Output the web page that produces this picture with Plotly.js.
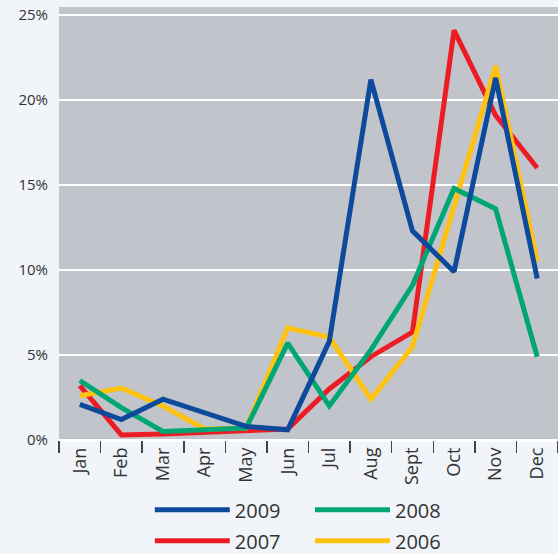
<!DOCTYPE html>
<html>
<head>
<meta charset="utf-8">
<script src="https://cdn.plot.ly/plotly-3.0.1.min.js"></script>
<style>
  html, body { margin: 0; padding: 0; background: #f1f4f8; }
  #chart { width: 558px; height: 554px; }
</style>
</head>
<body>
<div id="chart"></div>
<script>
// monthly share, %
const months = ['Jan', 'Feb', 'Mar', 'Apr', 'May', 'Jun', 'Jul', 'Aug', 'Sept', 'Oct', 'Nov', 'Dec'];
const y2009 = [2.1, 1.2, 2.4, 1.6, 0.8, 0.6, 5.8, 21.2, 12.3, 9.9, 21.3, 9.5];
const y2008 = [3.5, 1.9, 0.5, 0.6, 0.7, 5.7, 2.0, 5.3, 9.1, 14.8, 13.6, 4.9];
const y2007 = [3.2, 0.3, 0.35, 0.45, 0.5, 0.65, 3.0, 4.9, 6.35, 24.1, 19.1, 16.0];
const y2006 = [2.6, 3.05, 2.0, 0.65, 0.7, 6.6, 6.05, 2.4, 5.5, 13.7, 22.0, 10.5];

function line(name, data, color, legend, rank) {
    return {
        x: months,
        y: data,
        name: name,
        type: 'scatter',
        mode: 'lines',
        line: { color: color, width: 5 },
        legend: legend,
        legendgroup: name,
        legendrank: rank,
        hoverinfo: 'skip'
    };
}

// draw order: red, yellow, green, blue on top
const traces = [
    line('2007', y2007, '#ed1c24', 'legend', 2),
    line('2006', y2006, '#ffc20e', 'legend2', 2),
    line('2008', y2008, '#00a774', 'legend2', 1),
    line('2009', y2009, '#0d4a9c', 'legend', 1)
];

// two legend columns, placed under the plot (paper coords)
function legendBox(x) {
    return {
        orientation: 'v',
        x: x,
        y: -0.116,
        xanchor: 'left',
        yanchor: 'top',
        itemwidth: 75,
        tracegroupgap: 2,
        font: { size: 20, color: '#333333' },
        bgcolor: 'rgba(0,0,0,0)',
        traceorder: 'grouped'
    };
}

const layout = {
    width: 558,
    height: 554,
    margin: { l: 59, r: 0, t: 7, b: 114, autoexpand: false },
    paper_bgcolor: '#f1f4f8',
    plot_bgcolor: '#c2c4cc',
    font: { family: 'Open Sans, sans-serif', color: '#333333', size: 15 },
    showlegend: true,
    legend: legendBox(0.182),
    legend2: legendBox(0.503),
    xaxis: {
        type: 'category',
        range: [-0.5, 11.5],
        tickson: 'boundaries',
        ticks: 'outside',
        ticklen: 12,
        tickwidth: 1.5,
        tickcolor: '#444444',
        tickangle: -90,
        tickfont: { size: 18 },
        ticklabelstandoff: 3,
        showgrid: false,
        showline: false,
        zeroline: false,
        automargin: false,
        fixedrange: true
    },
    yaxis: {
        range: [0, 25.47],
        dtick: 5,
        ticksuffix: '%',
        ticks: '',
        ticklabelstandoff: 10,
        showgrid: true,
        gridcolor: '#ffffff',
        gridwidth: 2,
        zeroline: true,
        zerolinecolor: '#ffffff',
        zerolinewidth: 3,
        automargin: false,
        fixedrange: true
    }
};

Plotly.newPlot('chart', traces, layout, { displayModeBar: false, staticPlot: true });
</script>
</body>
</html>
